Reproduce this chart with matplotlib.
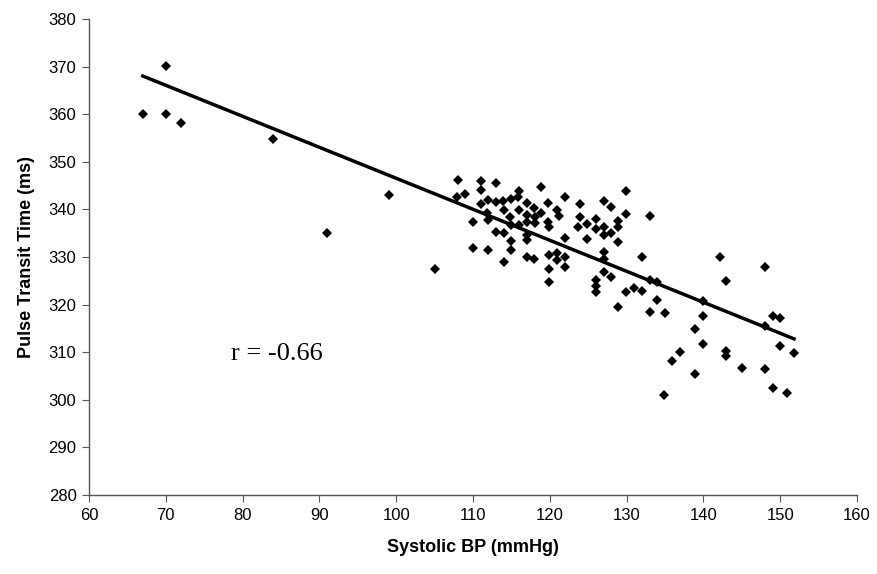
import numpy as np
import matplotlib
matplotlib.use('Agg')
from matplotlib import pyplot as plt

# Systolic BP (mmHg) and Pulse Transit Time (ms)
sbp = [67, 70, 70, 72, 84, 91, 99, 105,
       108, 111, 113, 107.9, 108.9, 111, 116, 118.9, 122, 123.9, 119.8, 111,
       112, 113, 113.9, 114.9, 115.9, 117, 117.9, 121, 121.2, 118.9, 114,
       111.8, 116, 114.8, 117, 118.1, 110, 112, 123.9, 119.8, 124.8, 123.7,
       115, 116, 117, 118.1, 119.9, 113, 114, 117, 117, 114.9, 122, 124.8,
       110, 112, 114.9, 114, 117, 117.9, 119.9, 121, 121, 122, 122, 119.9, 119.9,
       129.9, 127, 128, 129.9, 133, 126, 126, 127, 127, 128, 128.9, 128.9,
       128.9, 127, 127, 132, 142.1, 143, 127, 128, 126, 126, 126, 129.9,
       130.9, 132, 133, 134, 134, 128.9, 133, 135, 139.9, 139.9,
       138.9, 139.9, 137, 135.9, 138.9, 134.9, 143, 143, 145, 148, 149, 150.9,
       149, 150, 148, 150, 151.8, 148]
ptt = [360, 370.2, 360, 358.1, 354.7, 335, 343, 327.4,
       346.2, 346, 345.5, 342.7, 343.2, 344.1, 343.9, 344.6, 342.5, 341.1, 341.3, 341.1,
       342, 341.6, 341.8, 342.2, 342.5, 341.3, 340.2, 339.9, 338.7, 339.2, 339.9,
       339.2, 339.9, 338.5, 338.8, 338.5, 337.4, 337.8, 338.5, 337.4, 336.9, 336.4,
       336.7, 336.7, 337.4, 337.1, 336.2, 335.3, 335, 334.6, 333.6, 333.4, 333.9, 333.8,
       331.8, 331.5, 331.5, 329, 329.9, 329.6, 330.4, 330.8, 329.4, 330.1, 328, 327.5, 324.7,
       343.9, 341.8, 340.4, 339, 338.6, 337.9, 335.9, 336.2, 334.6, 335, 337.6, 336.4,
       333.1, 331, 329.6, 330.1, 330.1, 325, 326.9, 325.7, 325.2, 323.8, 322.7, 322.6,
       323.4, 322.9, 325.2, 324.7, 321, 319.4, 318.5, 318.2, 320.8, 317.6,
       314.8, 311.7, 310.1, 308.2, 305.4, 301, 310.3, 309.2, 306.6, 306.4, 302.4, 301.4,
       317.6, 317.1, 315.4, 311.3, 309.9, 327.8]

x = np.array(sbp)
y = np.array(ptt)

# linear trend line
slope, intercept = np.polyfit(x, y, 1)
xl = np.array([x.min(), x.max()])

fig = plt.figure(figsize=(8.77, 5.74), dpi=100)
ax = fig.add_axes([0.1015, 0.1376, 0.8757, 0.8294])

ax.plot(x, y, 'D', color='black', ms=5.2, mew=0)
ax.plot(xl, slope * xl + intercept, color='black', lw=2.5)

ax.set_xlim(60, 160)
ax.set_ylim(280, 380)
ax.set_xticks(range(60, 161, 10))
ax.set_yticks(range(280, 381, 10))

for s in ['top', 'right']:
    ax.spines[s].set_visible(False)
for s in ['left', 'bottom']:
    ax.spines[s].set_color('#555555')
    ax.spines[s].set_linewidth(1.0)

ax.tick_params(axis='both', which='major', labelsize=12, length=5,
               color='#555555', pad=4, labelfontfamily='Liberation Sans')

ax.set_xlabel('Systolic BP (mmHg)', fontsize=13, fontweight='bold',
              family='Liberation Sans', labelpad=12)
ax.set_ylabel('Pulse Transit Time (ms)', fontsize=13, fontweight='bold',
              family='Liberation Sans', labelpad=10)

ax.text(78.5, 308.3, 'r = -0.66', fontsize=19, family='Liberation Serif',
        va='baseline', ha='left')

fig.savefig('out.png', dpi=100)
